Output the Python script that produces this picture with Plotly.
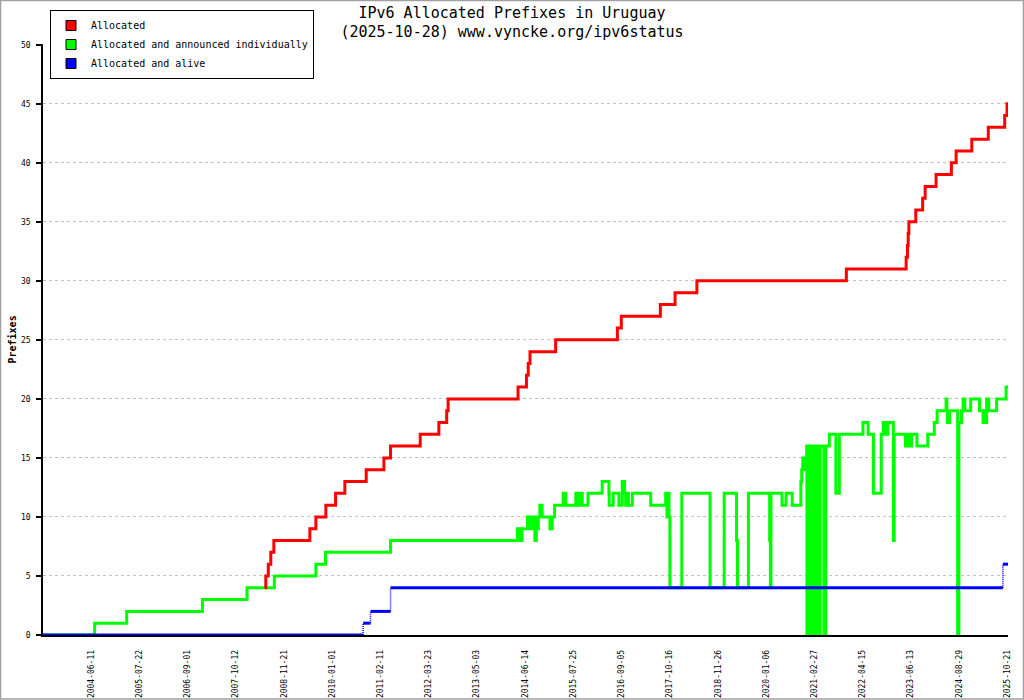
import plotly.graph_objects as go

# values for Uruguay
red_dates = ["2008-06-10", "2008-06-21", "2008-07-12", "2008-08-02", "2008-08-28",
             "2009-06-27", "2009-08-17", "2009-11-09", "2010-01-30", "2010-04-18",
             "2010-10-15", "2011-03-13", "2011-05-08", "2012-01-13", "2012-06-18",
             "2012-08-23", "2012-09-04", "2014-04-16", "2014-06-26", "2014-07-11",
             "2014-07-26", "2015-02-27", "2016-07-31", "2016-09-02", "2017-07-28",
             "2017-11-29", "2018-06-01", "2021-11-29", "2023-05-05", "2023-05-16",
             "2023-05-22", "2023-05-28", "2023-07-25", "2023-10-28", "2023-11-18",
             "2024-02-18", "2024-06-26", "2024-08-05", "2024-12-15", "2025-05-03",
             "2025-09-30", "2025-10-20", "2025-10-28"]
red_values = [4, 5, 6, 7, 8, 9, 10, 11, 12, 13, 14, 15, 16, 17, 18, 19, 20, 21, 22, 23,
              24, 25, 26, 27, 28, 29, 30, 31, 32, 33, 34, 35, 36, 37, 38, 39, 40, 41, 42,
              43, 44, 45, 45]

green_dates = ["2003-05-02", "2004-07-10", "2005-04-06", "2007-01-04", "2008-01-15",
               "2008-09-01", "2009-08-17", "2009-11-06", "2011-05-08", "2014-04-11",
               "2014-04-20", "2014-04-28", "2014-05-07", "2014-05-20", "2014-07-05",
               "2014-07-13", "2014-07-30", "2014-08-14", "2014-08-23", "2014-09-05",
               "2014-09-17", "2014-09-26", "2014-10-04", "2014-10-17", "2014-11-05",
               "2015-01-10", "2015-01-29", "2015-02-18", "2015-05-01", "2015-05-22",
               "2015-08-16", "2015-08-27", "2015-09-19", "2015-10-09", "2015-11-26",
               "2016-03-25", "2016-05-21", "2016-05-23", "2016-06-26", "2016-08-13",
               "2016-09-10", "2016-09-30", "2016-10-09", "2016-10-20", "2016-11-01",
               "2016-12-04", "2017-05-08", "2017-09-11", "2017-09-22", "2017-09-30",
               "2017-10-09", "2017-10-17", "2018-01-25", "2018-09-20", "2019-01-17",
               "2019-05-01", "2019-05-09", "2019-08-09", "2020-02-04", "2020-02-10",
               "2020-02-15", "2020-05-30", "2020-07-03", "2020-08-24", "2020-11-05",
               "2020-11-12", "2020-11-21", "2020-12-04", "2020-12-13", "2020-12-24",
               "2020-12-26", "2021-01-02", "2021-01-08", "2021-01-15", "2021-01-21",
               "2021-01-30", "2021-02-10", "2021-02-18", "2021-02-27", "2021-03-08",
               "2021-03-17", "2021-03-25", "2021-04-03", "2021-04-17", "2021-05-18",
               "2021-06-03", "2021-07-03", "2021-08-27", "2021-09-25", "2022-04-18",
               "2022-06-01", "2022-07-15", "2022-09-19", "2022-10-06", "2022-10-17",
               "2022-10-26", "2022-11-04", "2022-11-13", "2022-12-30", "2023-01-06",
               "2023-04-29", "2023-05-17", "2023-05-26", "2023-06-19", "2023-08-04",
               "2023-12-10", "2024-02-03", "2024-02-27", "2024-05-12", "2024-05-19",
               "2024-05-24", "2024-06-10", "2024-08-18", "2024-08-28", "2024-09-19",
               "2024-10-03", "2024-10-18", "2024-12-06", "2025-02-18", "2025-03-20",
               "2025-04-04", "2025-04-11", "2025-04-19", "2025-05-07", "2025-07-24",
               "2025-10-12", "2025-10-28"]
green_values = [0, 1, 2, 3, 4, 5, 6, 7, 8, 9,
                8, 9, 8, 9, 10, 9, 10, 9, 10, 8,
                10, 9, 10, 11, 10, 9, 10, 11, 12, 11,
                12, 11, 12, 11, 12, 13, 12, 11, 12, 11,
                13, 12, 11, 12, 11, 12, 11, 12, 10, 12,
                10, 4, 12, 4, 12, 8, 4, 12, 8, 4,
                12, 11, 12, 11, 13, 14, 15, 14, 15, 16,
                0, 16, 0, 16, 0, 16, 0, 16, 0, 16,
                0, 16, 0, 16, 0, 16, 17, 12, 17, 18,
                17, 12, 17, 18, 17, 18, 17, 18, 8, 17,
                16, 17, 16, 17, 16, 17, 18, 19, 20, 19,
                18, 19, 0, 18, 19, 20, 19, 20, 19, 18,
                19, 18, 20, 19, 20, 21, 21]

blue_dates = ["2003-05-02", "2010-09-19", "2010-11-20", "2011-05-08", "2025-09-15", "2025-10-28"]
blue_values = [0, 1, 2, 4, 6, 6]

names = ["Allocated", "Allocated and announced individually", "Allocated and alive"]
colors = ["#ff0000", "#00ff00", "#0000ff"]

tick_dates = ["2004-06-11", "2005-07-22", "2006-09-01", "2007-10-12", "2008-11-21",
              "2010-01-01", "2011-02-11", "2012-03-23", "2013-05-03", "2014-06-14",
              "2015-07-25", "2016-09-05", "2017-10-16", "2018-11-26", "2020-01-06",
              "2021-02-27", "2022-04-15", "2023-06-13", "2024-08-29", "2025-10-21"]
x_start = "2003-05-02"
x_end = "2025-10-28"
grid_dates = [x_start] + tick_dates[1::2]

# the source axis runs on samples, some days after 2020 have none
no_sample = [["2020-03-01", "2020-03-13"], ["2021-11-01", "2021-11-07"],
             ["2023-02-01", "2023-02-19"], ["2023-08-20", "2023-09-26"],
             ["2025-06-01", "2025-06-13"]]
breaks = [dict(bounds=b) for b in no_sample]

mono = "DejaVu Sans Mono"

# blue: solid flats, dotted risers
bx_h, by_h = [], []
for i in range(len(blue_dates) - 1):
    bx_h += [blue_dates[i], blue_dates[i + 1], None]
    by_h += [blue_values[i], blue_values[i], None]
bx_v, by_v = [], []
for i in range(1, len(blue_dates)):
    if blue_values[i] != blue_values[i - 1]:
        bx_v += [blue_dates[i], blue_dates[i], None]
        by_v += [blue_values[i - 1], blue_values[i], None]

fig = go.Figure()
fig.add_trace(go.Scatter(x=green_dates, y=green_values, mode="lines", line_shape="hv",
                         line=dict(color=colors[1], width=3), showlegend=False, hoverinfo="skip"))
fig.add_trace(go.Scatter(x=red_dates, y=red_values, mode="lines", line_shape="hv",
                         line=dict(color=colors[0], width=3), showlegend=False, hoverinfo="skip"))
fig.add_trace(go.Scatter(x=bx_h, y=by_h, mode="lines",
                         line=dict(color=colors[2], width=3), showlegend=False, hoverinfo="skip"))
fig.add_trace(go.Scatter(x=bx_v, y=by_v, mode="lines",
                         line=dict(color=colors[2], width=1.5, dash="1px,1px"),
                         showlegend=False, hoverinfo="skip"))

# legend swatches
for n, c in zip(names, colors):
    fig.add_trace(go.Scatter(x=[None], y=[None], mode="markers", name=n,
                             marker=dict(symbol="square", size=10, color=c,
                                         line=dict(color="black", width=1))))

fig.update_layout(
    width=1024, height=700,
    margin=dict(l=43, r=16, t=44, b=65, autoexpand=False),
    paper_bgcolor="white", plot_bgcolor="white",
    font=dict(family=mono, color="black", size=9),
    title=dict(text="IPv6 Allocated Prefixes in Uruguay<br>(2025-10-28) www.vyncke.org/ipv6status",
               x=0.5, xanchor="center", y=0.975, yanchor="top",
               font=dict(family=mono, size=15, color="black")),
    showlegend=True,
    legend=dict(xref="container", yref="container", x=50 / 1024, y=1 - 10 / 700,
                xanchor="left", yanchor="top",
                bgcolor="white", bordercolor="black", borderwidth=1,
                font=dict(family=mono, size=10, color="black"),
                itemwidth=30, tracegroupgap=0),
    xaxis=dict(type="date", range=[x_start, x_end], rangebreaks=breaks,
               tickmode="array", tickvals=tick_dates, ticktext=tick_dates,
               tickangle=-90, ticks="", showgrid=False, zeroline=False,
               showline=True, linecolor="black", linewidth=1.5,
               ticklabelstandoff=10,
               tickfont=dict(family=mono, size=8, color="black")),
    xaxis2=dict(type="date", range=[x_start, x_end], rangebreaks=breaks,
                overlaying="x", anchor="y",
                tickmode="array", tickvals=grid_dates, showticklabels=False,
                ticks="outside", ticklen=5, tickcolor="black", tickwidth=1.5,
                showgrid=True, gridcolor="#c0c0c0", gridwidth=1, griddash="3px,3px",
                showline=False, zeroline=False),
    yaxis=dict(range=[0, 50.06], tickmode="array", tickvals=list(range(0, 51, 5)),
               ticks="outside", ticklen=5, tickcolor="black", tickwidth=1.5,
               showgrid=True, gridcolor="#c0c0c0", gridwidth=1, griddash="3px,3px",
               zeroline=False, showline=True, linecolor="black", linewidth=1.5,
               ticklabelstandoff=4,
               tickfont=dict(family=mono, size=8, color="black")),
    yaxis2=dict(range=[0, 50.06], overlaying="y", side="right", anchor="x",
                showline=True, linecolor="black", linewidth=1.5,
                showticklabels=False, ticks="", showgrid=False, zeroline=False),
)

# y axis title, placed at the far left like the source
fig.add_annotation(text="<b>Prefixes</b>", xref="paper", yref="paper",
                   x=-31 / 965, y=0.5, xanchor="center", yanchor="middle",
                   textangle=-90, showarrow=False,
                   font=dict(family=mono, size=10, color="black"))

# grey frame around the whole picture
fig.add_shape(type="rect", xref="paper", yref="paper",
              x0=-42.5 / 965, x1=980.5 / 965, y0=-64 / 591, y1=634.5 / 591,
              line=dict(color="#a0a0a0", width=1.5), fillcolor="rgba(0,0,0,0)", layer="above")

# page body has an 8px default margin, drop it so the figure sits at 0,0
fig.write_html("out.html", config={"displayModeBar": False},
               post_script="document.body.style.margin = '0';")
